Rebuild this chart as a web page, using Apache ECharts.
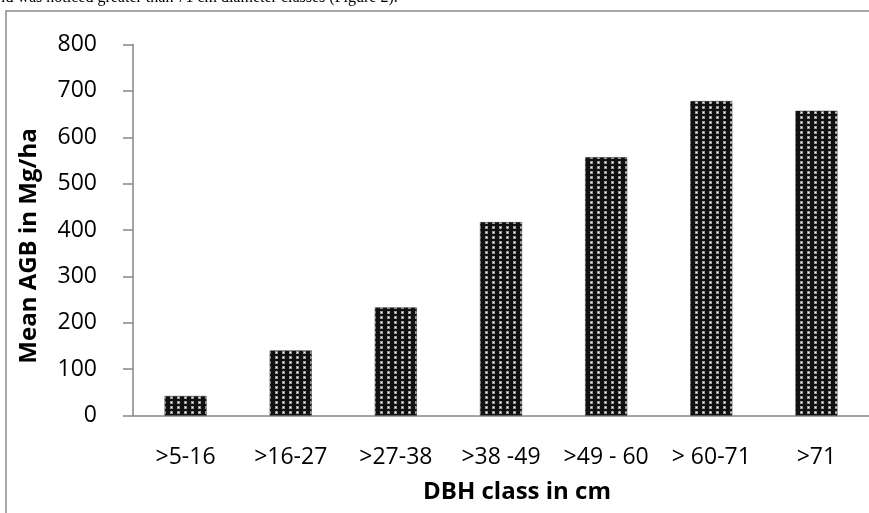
<!DOCTYPE html>
<html>
<head>
<meta charset="utf-8">
<script src="https://cdn.jsdelivr.net/npm/echarts@6/dist/echarts.min.js"></script>
<style>
  html, body { margin: 0; padding: 0; background: #fff; }
  #chart { width: 869px; height: 513px; }
</style>
</head>
<body>
<div id="chart"></div>
<script>
var categories = ['>5-16', '>16-27', '>27-38', '>38 -49', '>49 - 60', '> 60-71', '>71']
var agbValues = [42, 140, 233, 417, 557, 678, 657]
var yTicks = { min: 0, max: 800, interval: 100 }
var captionText = 'ld was noticed greater than 71 cm diameter classes (Figure 2).'

// dotted fill like the excel pattern (black rings, light centres)
function dotPattern() {
  var c = document.createElement('canvas')
  c.width = 7
  c.height = 5
  var ctx = c.getContext('2d')
  ctx.fillStyle = '#111'
  ctx.fillRect(0, 0, 7, 5)
  ctx.fillStyle = '#9a9a9a'
  ctx.fillRect(2, 1, 3, 3)
  ctx.fillStyle = '#fff'
  ctx.fillRect(3, 2, 1, 1)
  return c
}

var myChart = echarts.init(document.getElementById('chart'), null, { renderer: 'canvas' })
var axisFont = 'Open Sans'

myChart.setOption({
  animation: false,
  backgroundColor: '#fff',
  graphic: [
    {
      type: 'text',
      left: 1,
      top: -10,
      style: {
        text: captionText,
        font: '16px "Liberation Serif"',
        fill: '#000'
      }
    },
    {
      type: 'rect',
      shape: { x: 6, y: 11, width: 900, height: 600 },
      style: { fill: 'none', stroke: '#8a8a8a', lineWidth: 1.5 }
    }
  ],
  grid: { left: 133, top: 44.5, width: 737, height: 371 },
  xAxis: {
    type: 'category',
    data: categories,
    name: 'DBH class in cm',
    nameLocation: 'middle',
    nameGap: 65,
    nameTextStyle: { fontFamily: axisFont, fontSize: 24, fontWeight: 'bold', color: '#000', padding: [0, 0, 0, 32] },
    axisLine: { lineStyle: { color: '#868686', width: 1.5 } },
    axisTick: { show: false },
    axisLabel: { fontFamily: axisFont, fontSize: 23, color: '#000', margin: 30, interval: 0 }
  },
  yAxis: {
    type: 'value',
    min: yTicks.min,
    max: yTicks.max,
    interval: yTicks.interval,
    name: 'Mean AGB in Mg/ha',
    nameLocation: 'middle',
    nameRotate: 90,
    nameGap: 92,
    nameTextStyle: { fontFamily: axisFont, fontSize: 24, fontWeight: 'bold', color: '#000', padding: [0, 32, 0, 0] },
    axisLine: { show: true, lineStyle: { color: '#868686', width: 1.5 } },
    axisTick: { show: true, length: 10, lineStyle: { color: '#868686', width: 1.5 } },
    splitLine: { show: false },
    axisLabel: { fontFamily: axisFont, fontSize: 23, color: '#000', margin: 36 }
  },
  series: [{
    type: 'bar',
    data: agbValues,
    barWidth: 42,
    itemStyle: {
      color: { image: dotPattern(), repeat: 'repeat' },
      borderColor: '#222',
      borderWidth: 0.5
    }
  }]
})
</script>
</body>
</html>
